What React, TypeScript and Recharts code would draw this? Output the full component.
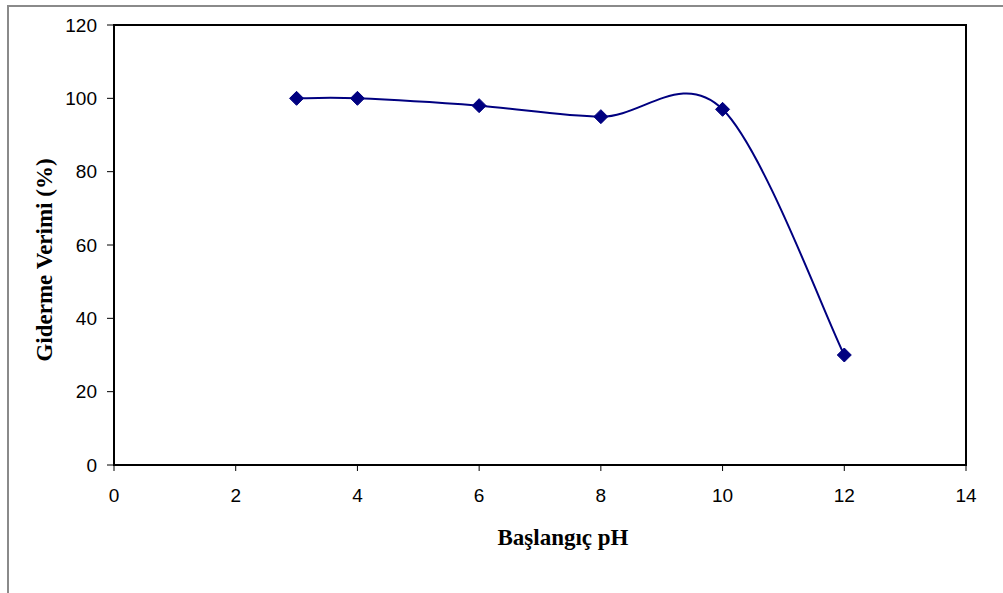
import { LineChart, Line, XAxis, YAxis, ReferenceArea } from 'recharts';

// Giderme verimi - başlangıç pH
const phValues = [3, 4, 6, 8, 10, 12];
const removalEfficiency = [100, 100, 98, 95, 97, 30];
const xTicks = [0, 2, 4, 6, 8, 10, 12, 14];
const yTicks = [0, 20, 40, 60, 80, 100, 120];

const data = phValues.map((ph, i) => ({ ph, verim: removalEfficiency[i] }));

const NAVY = '#000080';
const tickFont = { fontFamily: '"Liberation Sans", Arial, sans-serif', fontSize: 19, fill: '#000' };
const titleFont = { fontFamily: '"Liberation Serif", "Times New Roman", serif', fontSize: 23, fontWeight: 700, fill: '#000' };

// Spreadsheet-style smoothed line: cubic Bezier through the points with 1/6 tangents
function smoothCurve(context: any) {
    let pts: [number, number][] = [];
    return {
        areaStart() {},
        areaEnd() {},
        lineStart() {
            pts = [];
        },
        point(x: number, y: number) {
            pts.push([+x, +y]);
        },
        lineEnd() {
            if (!pts.length) return;
            context.moveTo(pts[0][0], pts[0][1]);
            for (let i = 0; i < pts.length - 1; i++) {
                const p0 = pts[i - 1] ?? pts[i];
                const p1 = pts[i];
                const p2 = pts[i + 1];
                const p3 = pts[i + 2] ?? p2;
                context.bezierCurveTo(
                    p1[0] + (p2[0] - p0[0]) / 6,
                    p1[1] + (p2[1] - p0[1]) / 6,
                    p2[0] - (p3[0] - p1[0]) / 6,
                    p2[1] - (p3[1] - p1[1]) / 6,
                    p2[0],
                    p2[1],
                );
            }
        },
    };
}

const Diamond = (props: any) => {
    const { cx, cy, index } = props;
    if (cx == null || cy == null) return <g key={index} />;
    const r = 7;
    return (
        <path
            key={index}
            d={`M${cx},${cy - r}L${cx + r},${cy}L${cx},${cy + r}L${cx - r},${cy}Z`}
            fill={NAVY}
            stroke={NAVY}
        />
    );
};

const XTitle = (props: any) => {
    const { viewBox } = props;
    return (
        <text x={viewBox.x + viewBox.width / 2 + 23} y={545} textAnchor="middle" {...titleFont}>
            Başlangıç pH
        </text>
    );
};

const YTitle = (props: any) => {
    const { viewBox } = props;
    const cy = viewBox.y + viewBox.height / 2 + 15;
    return (
        <text
            x={44}
            y={cy}
            textAnchor="middle"
            dominantBaseline="central"
            transform={`rotate(-90, 44, ${cy})`}
            {...titleFont}
        >
            Giderme Verimi (%)
        </text>
    );
};

export default function App() {
    return (
        <div style={{ position: 'fixed', left: 0, top: 0, width: 1003, height: 593, overflow: 'hidden', background: '#fff' }}>
            <div
                style={{
                    position: 'absolute',
                    left: 7,
                    top: 5,
                    width: 1100,
                    height: 700,
                    borderLeft: '2px solid #8a8a8a',
                    borderTop: '2px solid #8a8a8a',
                }}
            />
            <LineChart
                width={1003}
                height={593}
                data={data}
                margin={{ top: 25, right: 37, left: 0, bottom: 0 }}
                style={{ position: 'absolute', left: 0, top: 0 }}
            >
                <ReferenceArea x1={0} x2={14} y1={0} y2={120} fill="none" stroke="#000" strokeWidth={2} />
                <XAxis
                    type="number"
                    dataKey="ph"
                    domain={[0, 14]}
                    ticks={xTicks}
                    height={128}
                    tick={tickFont}
                    tickSize={6}
                    tickMargin={18}
                    axisLine={{ stroke: '#000', strokeWidth: 2 }}
                    tickLine={{ stroke: '#000', strokeWidth: 1 }}
                    label={<XTitle />}
                />
                <YAxis
                    type="number"
                    domain={[0, 120]}
                    ticks={yTicks}
                    width={114}
                    tick={tickFont}
                    tickSize={7}
                    tickMargin={10}
                    axisLine={{ stroke: '#000', strokeWidth: 2 }}
                    tickLine={{ stroke: '#000', strokeWidth: 1 }}
                    label={<YTitle />}
                />
                <Line
                    dataKey="verim"
                    type={smoothCurve as any}
                    stroke={NAVY}
                    strokeWidth={2}
                    dot={Diamond}
                    activeDot={false}
                    isAnimationActive={false}
                />
            </LineChart>
        </div>
    );
}
